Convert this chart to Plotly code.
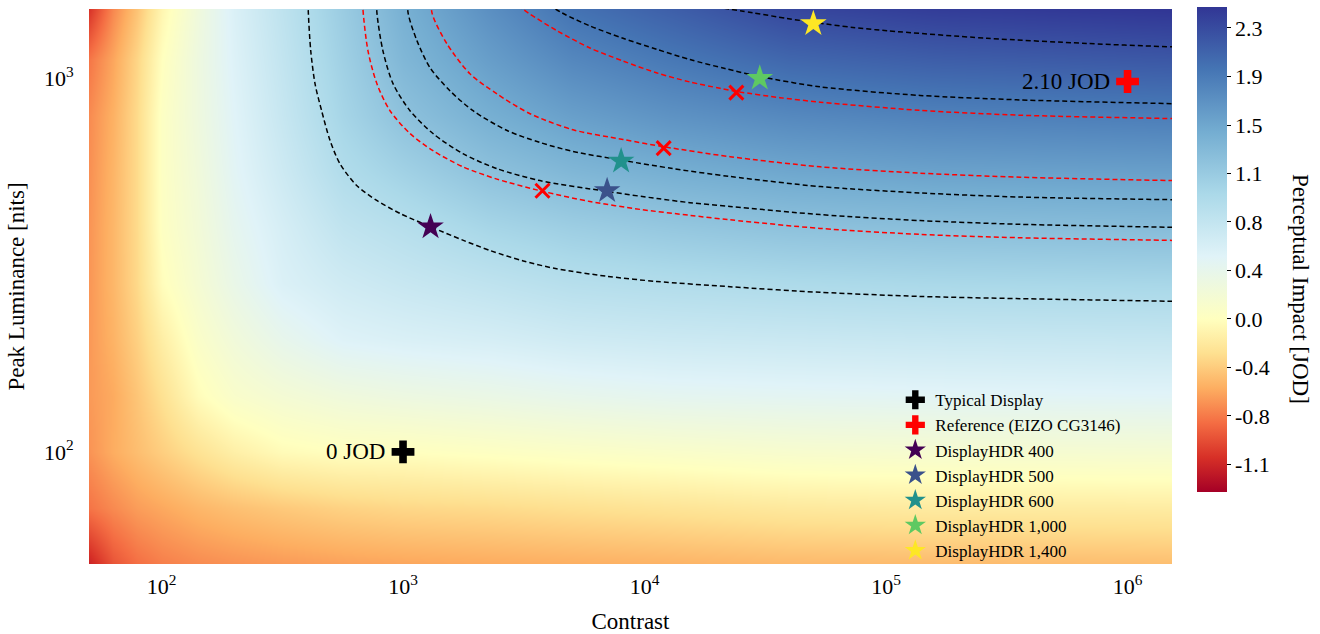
import numpy as np
import plotly.graph_objects as go

# ---------------- heat-map samples (JOD) ----------------
grid_log_contrast = [1.69, 1.80, 1.90, 2.00, 2.15, 2.30, 2.50, 2.75, 3.00, 3.35, 3.70, 4.10, 4.60, 5.20, 6.20]
grid_log_luminance = [1.69, 1.85, 2.00, 2.15, 2.30, 2.45, 2.60, 2.75, 2.90, 3.05, 3.20]
jod_grid = [
    [-1.22, -0.95, -0.83, -0.76, -0.71, -0.68, -0.65, -0.62, -0.60, -0.58, -0.56, -0.54, -0.51, -0.50, -0.48],
    [-0.80, -0.70, -0.62, -0.57, -0.50, -0.45, -0.40, -0.35, -0.32, -0.30, -0.27, -0.24, -0.20, -0.18, -0.17],
    [-0.67, -0.55, -0.46, -0.37, -0.25, -0.14, -0.04, 0.00, 0.00, 0.03, 0.06, 0.09, 0.125, 0.146, 0.16],
    [-0.64, -0.56, -0.42, -0.26, -0.03, 0.10, 0.18, 0.25, 0.29, 0.33, 0.38, 0.42, 0.44, 0.46, 0.48],
    [-0.65, -0.52, -0.36, -0.15, 0.08, 0.23, 0.38, 0.51, 0.55, 0.59, 0.65, 0.68, 0.70, 0.72, 0.74],
    [-0.66, -0.50, -0.31, -0.02, 0.17, 0.35, 0.54, 0.65, 0.72, 0.80, 0.88, 0.92, 0.96, 0.99, 1.01],
    [-0.67, -0.50, -0.30, 0.03, 0.21, 0.41, 0.59, 0.79, 0.88, 1.02, 1.11, 1.18, 1.245, 1.28, 1.31],
    [-0.69, -0.51, -0.30, 0.04, 0.24, 0.46, 0.67, 0.93, 1.07, 1.25, 1.37, 1.456, 1.53, 1.575, 1.60],
    [-0.71, -0.53, -0.30, 0.04, 0.27, 0.49, 0.73, 1.03, 1.25, 1.45, 1.60, 1.71, 1.80, 1.86, 1.90],
    [-0.80, -0.58, -0.33, 0.00, 0.28, 0.52, 0.77, 1.09, 1.37, 1.61, 1.81, 1.94, 2.08, 2.15, 2.20],
    [-1.15, -0.72, -0.44, -0.09, 0.25, 0.55, 0.81, 1.14, 1.45, 1.75, 2.01, 2.16, 2.36, 2.44, 2.50],
]
jod_min, jod_max = -1.368, 2.466

# colourbar ticks
cbar_tick_values = [-1.15, -0.767, -0.383, 0.0, 0.383, 0.767, 1.15, 1.533, 1.917, 2.3]
cbar_tick_labels = ["-1.1", "-0.8", "-0.4", "0.0", "0.4", "0.8", "1.1", "1.5", "1.9", "2.3"]

# axis ticks
x_tick_values = [1e2, 1e3, 1e4, 1e5, 1e6]
x_tick_labels = ["10<sup>2</sup>", "10<sup>3</sup>", "10<sup>4</sup>", "10<sup>5</sup>", "10<sup>6</sup>"]
y_tick_values = [1e2, 1e3]
y_tick_labels = ["10<sup>2</sup>", "10<sup>3</sup>"]

# ---------------- iso-JOD curves (log10 contrast, log10 luminance) ----------------
hdr400_curve_logc = [2.605, 2.608, 2.618, 2.636, 2.663, 2.698, 2.739, 2.808, 2.891, 2.988, 3.119, 3.250,
                     3.360, 3.498, 3.636, 3.843, 4.051, 4.354, 4.727, 5.141, 5.555, 6.184, 6.259]
hdr400_curve_logl = [3.247, 3.175, 3.073, 2.984, 2.913, 2.833, 2.771, 2.713, 2.673, 2.638, 2.601, 2.566,
                     2.539, 2.511, 2.490, 2.470, 2.456, 2.442, 2.427, 2.416, 2.410, 2.403, 2.402]
other1_curve_logc = [2.832, 2.834, 2.855, 2.892, 2.946, 3.029, 3.124, 3.248, 3.389, 3.580, 3.774, 3.981,
                     4.188, 4.354, 4.727, 5.141, 5.555, 6.184, 6.259]
other1_curve_logl = [3.247, 3.185, 3.073, 2.985, 2.913, 2.852, 2.806, 2.763, 2.730, 2.697, 2.670, 2.649,
                     2.633, 2.621, 2.598, 2.582, 2.573, 2.566, 2.565]
hdr500_curve_logc = [2.890, 2.892, 2.917, 2.959, 3.029, 3.124, 3.248, 3.389, 3.567, 3.845, 4.052, 4.188,
                     4.354, 4.727, 5.141, 5.555, 6.184, 6.259]
hdr500_curve_logl = [3.247, 3.175, 3.073, 2.985, 2.913, 2.852, 2.798, 2.758, 2.726, 2.697, 2.678, 2.667,
                     2.657, 2.635, 2.619, 2.609, 2.601, 2.600]
hdr600_curve_logc = [3.019, 3.021, 3.058, 3.112, 3.195, 3.290, 3.431, 3.567, 3.704, 3.911, 4.118, 4.354,
                     4.727, 5.141, 5.555, 6.184, 6.259]
hdr600_curve_logl = [3.247, 3.175, 3.100, 3.028, 2.966, 2.913, 2.860, 2.828, 2.804, 2.780, 2.758, 2.737,
                     2.710, 2.693, 2.682, 2.675, 2.675]
other2_curve_logc = [3.118, 3.120, 3.182, 3.277, 3.389, 3.526, 3.704, 3.911, 4.085, 4.354, 4.727, 5.141,
                     5.555, 6.184, 6.259]
other2_curve_logl = [3.247, 3.175, 3.092, 3.012, 2.958, 2.905, 2.862, 2.836, 2.816, 2.790, 2.763, 2.746,
                     2.735, 2.726, 2.725]
other3_curve_logc = [3.422, 3.518, 3.638, 3.774, 3.911, 4.052, 4.188, 4.313, 4.387, 4.561, 4.727, 5.141,
                     5.555, 6.184, 6.259]
other3_curve_logl = [3.220, 3.175, 3.127, 3.081, 3.046, 3.014, 2.990, 2.973, 2.964, 2.948, 2.936, 2.914,
                     2.901, 2.892, 2.891]
hdr1000_curve_logc = [3.547, 3.658, 3.774, 3.911, 4.052, 4.188, 4.333, 4.482, 4.727, 5.141, 5.555, 6.184, 6.259]
hdr1000_curve_logl = [3.220, 3.175, 3.140, 3.107, 3.077, 3.050, 3.026, 3.004, 2.977, 2.954, 2.942, 2.932, 2.931]
hdr1400_curve_logc = [4.230, 4.449, 4.590, 4.706, 4.863, 5.004, 5.418, 5.832, 6.184, 6.259]
hdr1400_curve_logl = [3.197, 3.175, 3.160, 3.149, 3.136, 3.127, 3.107, 3.093, 3.084, 3.083]

# ---------------- displays ----------------
typical_contrast, typical_luminance = [1000], [100]
reference_contrast, reference_luminance = [1e6], [980]
hdr_names = ["DisplayHDR 400", "DisplayHDR 500", "DisplayHDR 600", "DisplayHDR 1,000", "DisplayHDR 1,400"]
hdr_contrast = [1300, 7000, 8000, 30000, 50000]
hdr_luminance = [400, 500, 600, 1000, 1400]
hdr_colors = ["#440154", "#3b528b", "#21918c", "#5ec962", "#fde725"]
other_contrast = [3780, 12000, 24000]
other_luminance = [500, 650, 915]

# ---------------- colour scale: RdYlBu with a two-slope norm centred on 0 ----------------
rdylbu = ["#a50026", "#d73027", "#f46d43", "#fdae61", "#fee090", "#ffffbf",
          "#e0f3f8", "#abd9e9", "#74add1", "#4575b4", "#313695"]
colorscale = []
for i, c in enumerate(rdylbu):
    f = i / 10
    v = jod_min * (1 - 2 * f) if f <= 0.5 else jod_max * (2 * f - 1)
    colorscale.append([(v - jod_min) / (jod_max - jod_min), c])

FONT = "Liberation Serif"
fig = go.Figure()

fig.add_trace(go.Contour(
    x=[10 ** v for v in grid_log_contrast],
    y=[10 ** v for v in grid_log_luminance],
    z=jod_grid,
    colorscale=colorscale, zmin=jod_min, zmax=jod_max, zauto=False,
    contours=dict(coloring="heatmap", showlines=False),
    line=dict(width=0), hoverinfo="skip", showlegend=False,
    colorbar=dict(
        thickness=30, thicknessmode="pixels", len=485, lenmode="pixels",
        x=1.0231, xanchor="left", xpad=0, y=1.0018, yanchor="top", ypad=0,
        outlinewidth=0, tickvals=cbar_tick_values, ticktext=cbar_tick_labels,
        ticks="outside", ticklen=4, tickwidth=1, tickcolor="black",
        tickfont=dict(family=FONT, size=22, color="black"),
    ),
))

curves = [
    (hdr400_curve_logc, hdr400_curve_logl, "black"),
    (other1_curve_logc, other1_curve_logl, "red"),
    (hdr500_curve_logc, hdr500_curve_logl, "black"),
    (hdr600_curve_logc, hdr600_curve_logl, "black"),
    (other2_curve_logc, other2_curve_logl, "red"),
    (other3_curve_logc, other3_curve_logl, "red"),
    (hdr1000_curve_logc, hdr1000_curve_logl, "black"),
    (hdr1400_curve_logc, hdr1400_curve_logl, "black"),
]
for lc, ll, col in curves:
    fig.add_trace(go.Scatter(
        x=[10 ** v for v in lc], y=[10 ** v for v in ll], mode="lines",
        line=dict(color=col, width=1.5, dash="5px,3px", shape="spline", smoothing=0.8),
        hoverinfo="skip", showlegend=False))

fig.add_trace(go.Scatter(
    x=other_contrast, y=other_luminance, mode="markers",
    marker=dict(symbol="x-thin", size=14, line=dict(color="red", width=3), color="red"),
    showlegend=False, hoverinfo="skip"))

fig.add_trace(go.Scatter(
    x=typical_contrast, y=typical_luminance, mode="markers", name="Typical Display",
    marker=dict(symbol="cross", size=19, color="black", line=dict(width=0))))
fig.add_trace(go.Scatter(
    x=reference_contrast, y=reference_luminance, mode="markers", name="Reference (EIZO CG3146)",
    marker=dict(symbol="cross", size=19, color="red", line=dict(width=0))))
for n, cx, ly, col in zip(hdr_names, hdr_contrast, hdr_luminance, hdr_colors):
    fig.add_trace(go.Scatter(
        x=[cx], y=[ly], mode="markers", name=n,
        marker=dict(symbol="star", size=20, color=col, line=dict(width=0))))

fig.add_annotation(x=np.log10(typical_contrast[0]), y=np.log10(typical_luminance[0]), xref="x", yref="y",
                   text="0 JOD", showarrow=False, xanchor="right", yanchor="middle", xshift=-16,
                   font=dict(family=FONT, size=23, color="black"))
fig.add_annotation(x=np.log10(reference_contrast[0]), y=np.log10(reference_luminance[0]), xref="x", yref="y",
                   text="2.10 JOD", showarrow=False, xanchor="right", yanchor="middle", xshift=-16,
                   font=dict(family=FONT, size=23, color="black"))
# colourbar label, reading top to bottom as in the original
fig.add_annotation(x=1.118, y=0.496, xref="paper", yref="paper", text="Perceptual Impact [JOD]",
                   textangle=90, showarrow=False, xanchor="center", yanchor="middle",
                   font=dict(family=FONT, size=23, color="black"))

fig.update_layout(
    width=1320, height=634,
    margin=dict(l=89, r=148, t=8, b=70),
    paper_bgcolor="white", plot_bgcolor="white",
    font=dict(family=FONT, size=22, color="black"),
    legend=dict(x=0.7445, y=0.327, xanchor="left", yanchor="top",
                bgcolor="rgba(0,0,0,0)", borderwidth=0,
                font=dict(family=FONT, size=17, color="black")),
    xaxis=dict(type="log", range=[1.6998, 6.184], tickvals=x_tick_values, ticktext=x_tick_labels,
               showgrid=False, zeroline=False, showline=False, ticks="outside", ticklen=3,
               tickcolor="rgba(0,0,0,0)", tickfont=dict(size=22), automargin=False,
               title=dict(text="Contrast", font=dict(size=23), standoff=15)),
    yaxis=dict(type="log", range=[1.6998, 3.1853], tickvals=y_tick_values, ticktext=y_tick_labels,
               showgrid=False, zeroline=False, showline=False, ticks="outside", ticklen=10,
               tickcolor="rgba(0,0,0,0)", tickfont=dict(size=22), automargin=False,
               title=dict(text="Peak Luminance [nits]", font=dict(size=23), standoff=12)),
)

fig.write_html("out.html")
